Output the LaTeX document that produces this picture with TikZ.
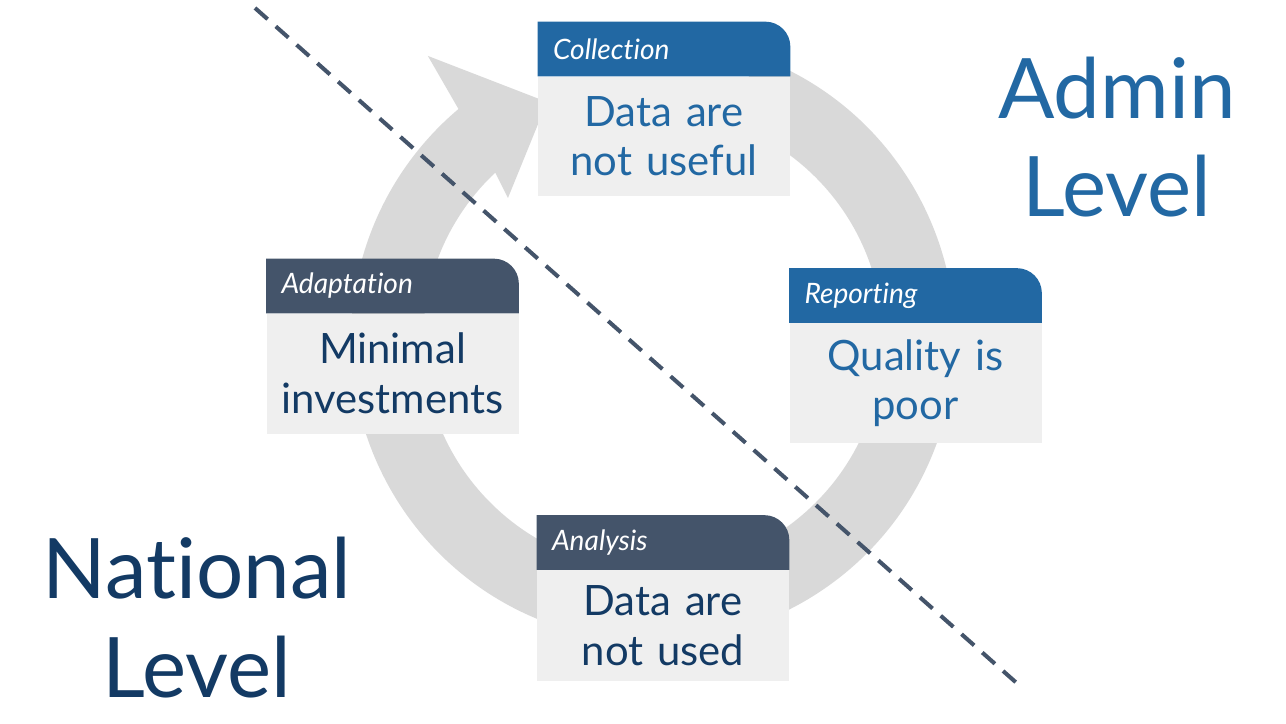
\documentclass[tikz,border=0pt]{standalone}
\usepackage{fontspec}
\setmainfont{Lato}[Ligatures=NoCommon]
\usepackage{xcolor}
\definecolor{adminblue}{HTML}{2268A3}
\definecolor{slate}{HTML}{44546A}
\definecolor{navy}{HTML}{133A64}
\definecolor{boxgray}{HTML}{EFEFEF}
\definecolor{ringgray}{HTML}{D9D9D9}
\usepackage{tikz}
\usetikzlibrary{positioning,backgrounds}

\begin{document}
\begin{tikzpicture}[
  stagehd/.style={minimum width=5.04cm,minimum height=1.08cm,inner xsep=0.3cm,inner ysep=0pt,
    text width=4.44cm,align=left,text=white,font=\fontsize{16}{19}\selectfont\itshape},
  stagebody/.style={fill=boxgray,minimum width=5.04cm,minimum height=2.4cm,inner xsep=0.1cm,
    text width=4.84cm,align=center,font=\fontsize{23.8}{28.4}\selectfont},
  level/.style={align=center,font=\fontsize{47.5}{56}\selectfont},
  cut/.style={slate,line width=2.3pt,dash pattern=on 9.6pt off 6.2pt}]
  \useasboundingbox (0,0) rectangle (25.72,14.46);

  % --- Cycle arrow (ring + head) ---
  \begin{scope}[on background layer,shift={(13.06,7.66)}]
    \fill[ringgray] (70:6.04) arc[start angle=70,end angle=-229.9,radius=6.04]
      -- (128.4:7.25) -- (114.0:5.21) -- (135.6:4.06) -- (133.3:4.6)
      arc[start angle=-226.7,end angle=70,radius=4.6] -- cycle;
  \end{scope}

  % --- Stages ---
  \node[stagehd] (hc) at (13.28,13.48) {Collection};
  \node[stagebody,text=adminblue,below=0pt of hc,minimum height=2.38cm] (bc) {Data are\\not useful};
  \node[stagehd] (hr) at (18.31,8.55) {Reporting};
  \node[stagebody,text=adminblue,below=0pt of hr] (br) {Quality is\\poor};
  \node[stagehd] (hd) at (13.26,3.61) {Analysis};
  \node[stagebody,text=navy,below=0pt of hd,minimum height=2.22cm] (bd) {Data are\\not used};
  \node[stagehd] (ha) at (7.85,8.74) {Adaptation};
  \node[stagebody,text=navy,below=0pt of ha] (ba) {Minimal\\investments};

  % --- Header bands (top right corner rounded) ---
  \begin{scope}[on background layer]
    \foreach \h/\c in {hc/adminblue,hr/adminblue,hd/slate,ha/slate}
      \fill[\c] (\h.south west) -- (\h.north west) -- ([xshift=-0.5cm]\h.north east)
        arc[start angle=90,end angle=0,radius=0.5cm] -- (\h.south east) -- cycle;
  \end{scope}

  % --- Split line ---
  \coordinate (cutA) at (5.10,14.30);
  \coordinate (cutB) at (20.40,0.74);
  \draw[cut] (cutA) -- (cutB);

  % --- Levels (base = last line) ---
  \node[level,text=adminblue,anchor=base] (admin) at (22.34,10.12) {Admin\\Level};
  \node[level,text=navy,anchor=base] (national) at (3.94,0.52) {National\\Level};
\end{tikzpicture}
\end{document}
